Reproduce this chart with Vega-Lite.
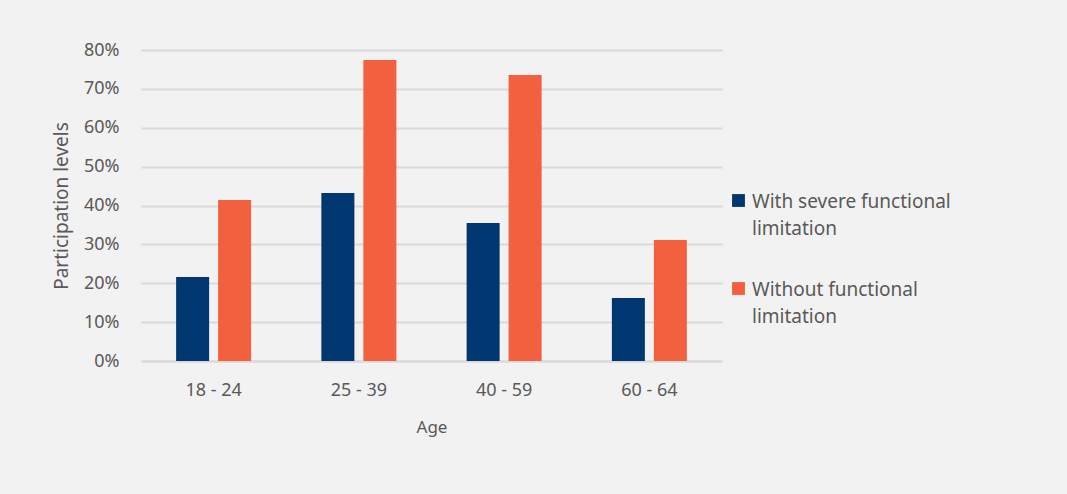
{
  "$schema": "https://vega.github.io/schema/vega-lite/v6.json",
  "width": 581,
  "height": 311,
  "autosize": {"type": "none"},
  "padding": {"left": 141, "top": 50, "right": 345, "bottom": 133},
  "background": "#f2f2f2",
  "config": {
    "font": "Noto Sans",
    "view": {"stroke": null},
    "style": {"guide-label": {"lineHeight": 27, "dy": -8}},
    "axis": {"labelColor": "#595959", "titleColor": "#595959", "labelFont": "Noto Sans", "titleFont": "Noto Sans", "labelFontSize": 18, "titleFontSize": 19, "titleFontWeight": "normal"},
    "legend": {"labelColor": "#595959", "labelFontSize": 19, "labelFont": "Noto Sans"}
  },
  "data": {
    "values": [
      {"age": "18 - 24", "group": "With severe functional limitation", "value": 0.216},
      {"age": "18 - 24", "group": "Without functional limitation", "value": 0.414},
      {"age": "25 - 39", "group": "With severe functional limitation", "value": 0.432},
      {"age": "25 - 39", "group": "Without functional limitation", "value": 0.774},
      {"age": "40 - 59", "group": "With severe functional limitation", "value": 0.355},
      {"age": "40 - 59", "group": "Without functional limitation", "value": 0.736},
      {"age": "60 - 64", "group": "With severe functional limitation", "value": 0.162},
      {"age": "60 - 64", "group": "Without functional limitation", "value": 0.311}
    ]
  },
  "mark": {"type": "bar"},
  "encoding": {
    "x": {
      "field": "age", "type": "nominal", "title": "Age",
      "scale": {"paddingInner": 0.4836, "paddingOuter": 0.2418},
      "axis": {"labelAngle": 0, "ticks": false, "domainColor": "#d9d9d9", "domainWidth": 2, "labelPadding": 28, "titlePadding": 20, "titleFontSize": 17}
    },
    "xOffset": {"field": "group", "type": "nominal", "scale": {"paddingInner": 0.214, "paddingOuter": 0}},
    "y": {
      "field": "value", "type": "quantitative", "title": "Participation levels",
      "scale": {"domain": [0, 0.8]},
      "axis": {"format": ".0%", "values": [0,0.1,0.2,0.3,0.4,0.5,0.6,0.7,0.8], "labelOverlap": false, "labelOffset": 8, "domain": false, "ticks": false, "gridColor": "#d9d9d9", "gridWidth": 2, "labelPadding": 22, "titlePadding": 12}
    },
    "color": {
      "field": "group", "type": "nominal",
      "scale": {"range": ["#003770", "#f26040"]},
      "legend": {
        "title": null, "orient": "none", "legendX": 588, "legendY": 141,
        "symbolType": "square", "symbolSize": 165, "symbolStrokeWidth": 0,
        "labelExpr": "datum.label == 'With severe functional limitation' ? ['With severe functional', 'limitation'] : ['Without functional', 'limitation']",
        "labelBaseline": "top", "labelOffset": 4, "rowPadding": 40, "labelLimit": 300
      }
    }
  }
}
